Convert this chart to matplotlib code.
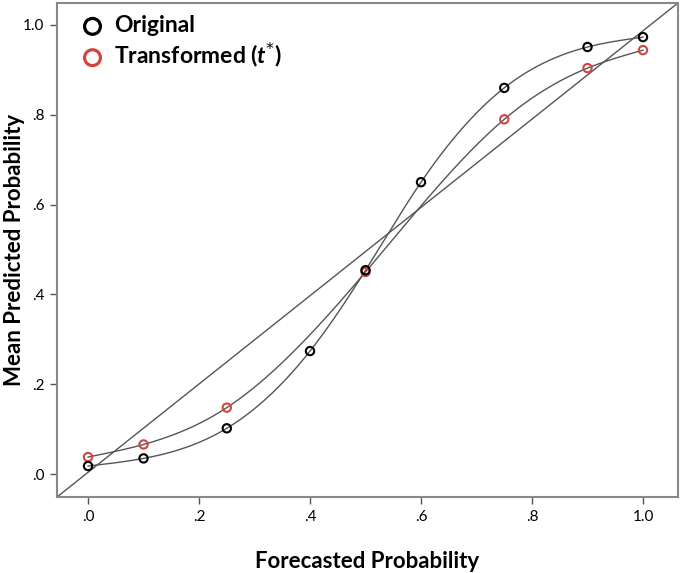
import numpy as np
import matplotlib.pyplot as plt
from matplotlib.ticker import FuncFormatter

# forecast probabilities and mean predicted probabilities
x_orig = [0.0, 0.1, 0.25, 0.4, 0.5, 0.6, 0.75, 0.9, 1.0]
y_orig = [0.018, 0.035, 0.102, 0.274, 0.454, 0.650, 0.860, 0.951, 0.973]
x_trans = [0.0, 0.1, 0.25, 0.5, 0.75, 0.9, 1.0]
y_trans = [0.038, 0.066, 0.148, 0.450, 0.790, 0.904, 0.944]
ticks = [0.0, 0.2, 0.4, 0.6, 0.8, 1.0]


def spline(xs, ys, n=300):
    # natural cubic spline through the points
    xs = np.asarray(xs, float)
    ys = np.asarray(ys, float)
    k = len(xs)
    h = np.diff(xs)
    A = np.zeros((k, k))
    b = np.zeros(k)
    A[0, 0] = A[-1, -1] = 1
    for i in range(1, k - 1):
        A[i, i - 1] = h[i - 1]
        A[i, i] = 2 * (h[i - 1] + h[i])
        A[i, i + 1] = h[i]
        b[i] = 3 * ((ys[i + 1] - ys[i]) / h[i] - (ys[i] - ys[i - 1]) / h[i - 1])
    c = np.linalg.solve(A, b)
    xx = np.linspace(xs[0], xs[-1], n)
    idx = np.clip(np.searchsorted(xs, xx) - 1, 0, k - 2)
    dx = xx - xs[idx]
    bb = (ys[1:] - ys[:-1]) / h - h * (2 * c[:-1] + c[1:]) / 3
    dd = (c[1:] - c[:-1]) / (3 * h)
    yy = ys[idx] + bb[idx] * dx + c[idx] * dx ** 2 + dd[idx] * dx ** 3
    return xx, yy


plt.rcParams['font.family'] = ['Lato', 'DejaVu Sans']
plt.rcParams['mathtext.fontset'] = 'custom'
plt.rcParams['mathtext.bfit'] = 'Lato:bold:italic'

fig = plt.figure(figsize=(6.8, 5.73), dpi=100)
ax = fig.add_axes([0.0838, 0.1326, 0.9132, 0.8622])

line_col = '#555555'
red = '#d0463c'
xmin, xmax = -0.056, 1.063
ymin, ymax = -0.051, 1.049

ax.plot([xmin, xmax], [ymin, ymax], color=line_col, lw=1.0, zorder=1)
xx, yy = spline(x_orig, y_orig)
ax.plot(xx, yy, color=line_col, lw=1.0, zorder=1)
xx, yy = spline(x_trans, y_trans)
ax.plot(xx, yy, color=line_col, lw=1.0, zorder=1)

ax.scatter(x_trans, y_trans, s=36, facecolors='none', edgecolors=red, linewidths=1.5, zorder=3)
ax.scatter(x_orig, y_orig, s=36, facecolors='none', edgecolors='black', linewidths=1.5, zorder=3)

h1 = ax.scatter([], [], s=130, facecolors='none', edgecolors='black', linewidths=2.3)
h2 = ax.scatter([], [], s=130, facecolors='none', edgecolors=red, linewidths=2.3)
ax.legend([h1, h2], ['Original', r'Transformed ($\mathbfit{t}^{*}$)'], loc='upper left',
          bbox_to_anchor=(0.0, 1.012),
          frameon=False, prop={'weight': 'bold', 'size': 16.5}, handletextpad=0.2,
          labelspacing=0.2, borderaxespad=0.5, borderpad=0.3, handlelength=1.5)

ax.set_xlim(xmin, xmax)
ax.set_ylim(ymin, ymax)
ax.set_xticks(ticks)
ax.set_yticks(ticks)
fmt = FuncFormatter(lambda v, p: '1.0' if v >= 0.99 else ('%.1f' % v).lstrip('0'))
ax.xaxis.set_major_formatter(fmt)
ax.yaxis.set_major_formatter(fmt)
ax.tick_params(direction='out', length=5, width=1, color='#555555', labelsize=11, pad=4)
for s in ax.spines.values():
    s.set_color('#888888')
    s.set_linewidth(1.5)

ax.set_xlabel('Forecasted Probability', fontsize=16, fontweight='bold', labelpad=20)
ax.set_ylabel('Mean Predicted Probability', fontsize=16, fontweight='bold', va='center')
ax.yaxis.set_label_coords(-0.068, 0.5)

fig.savefig('out.png', dpi=100)
